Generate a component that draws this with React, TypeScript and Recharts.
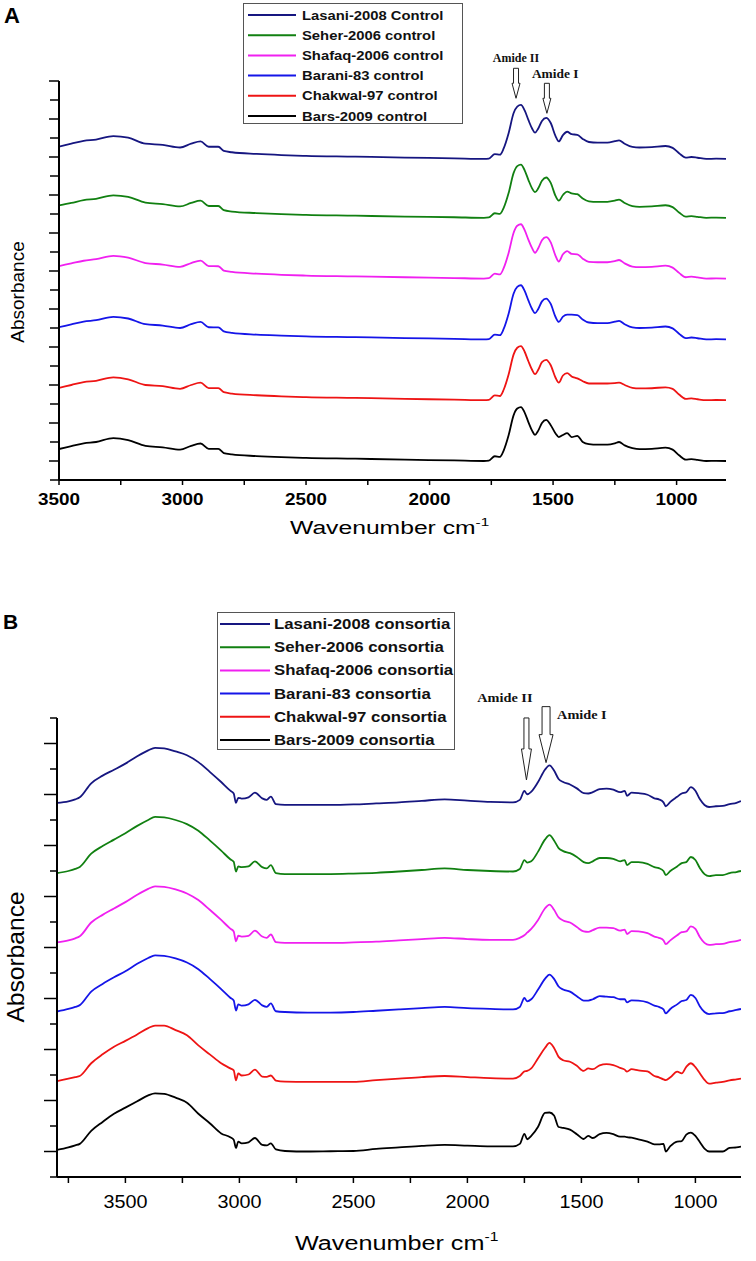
import React from 'react';
import { LineChart, Line, XAxis, YAxis, Legend, ReferenceDot } from 'recharts';

const SANS = "'Liberation Sans', Arial, Helvetica, sans-serif";
const SERIF = "'Liberation Serif', 'Times New Roman', Times, serif";

const COLORS = ['#161680', '#118011', '#f020f0', '#1515e8', '#ee1414', '#000000'];

// ---------- panel A : control spectra ----------
const WAVENUMBERS_A = [
  3500, 3450, 3400, 3350, 3280, 3220, 3150, 3080, 3010, 2965, 2927, 2894, 2855, 2833, 2800, 2700, 2600, 2500,
  2300, 2100, 1900, 1780, 1760, 1736, 1715, 1700, 1680, 1660, 1645, 1630, 1615, 1600, 1585, 1573, 1560, 1545,
  1528, 1510, 1490, 1477, 1460, 1443, 1425, 1402, 1380, 1355, 1320, 1280, 1250, 1233, 1210, 1179, 1150, 1100,
  1045, 1016, 990, 963, 940, 915, 880, 840, 800,
];
const LASANI_A = [
  0.65, 0.8, 0.95, 1.02, 1.2, 1.12, 0.8, 0.74, 0.6, 0.8, 0.92, 0.64, 0.64, 0.42, 0.35, 0.26, 0.2, 0.16, 0.12, 0.07,
  0.03, 0.0, 0.02, 0.25, 0.22, 0.55, 1.35, 2.4, 2.75, 2.84, 2.55, 2.05, 1.6, 1.38, 1.6, 2.0, 2.16, 1.9, 1.2, 0.92,
  1.25, 1.43, 1.3, 1.27, 1.05, 0.89, 0.86, 0.86, 0.93, 0.98, 0.8, 0.63, 0.6, 0.62, 0.68, 0.58, 0.3, 0.07, 0.1, 0.06,
  0.0, 0.01, 0.0,
];
const SEHER_A = [
  0.65, 0.78, 0.93, 1.0, 1.18, 1.1, 0.8, 0.72, 0.6, 0.78, 0.9, 0.62, 0.62, 0.4, 0.33, 0.25, 0.19, 0.15, 0.11, 0.06,
  0.03, 0.0, 0.02, 0.24, 0.21, 0.52, 1.3, 2.35, 2.72, 2.8, 2.5, 2.0, 1.55, 1.35, 1.55, 1.95, 2.12, 1.85, 1.15, 0.9,
  1.2, 1.38, 1.28, 1.24, 1.02, 0.87, 0.84, 0.84, 0.9, 0.96, 0.78, 0.62, 0.58, 0.6, 0.66, 0.56, 0.28, 0.06, 0.09, 0.05,
  0.0, 0.01, 0.0,
];
const SHAFAQ_A = [
  0.66, 0.8, 0.94, 1.02, 1.2, 1.1, 0.82, 0.74, 0.62, 0.82, 0.95, 0.66, 0.65, 0.42, 0.35, 0.26, 0.2, 0.16, 0.12, 0.07,
  0.03, 0.0, 0.02, 0.26, 0.22, 0.55, 1.35, 2.4, 2.78, 2.86, 2.55, 2.05, 1.6, 1.36, 1.6, 2.02, 2.18, 1.92, 1.2, 0.9,
  1.28, 1.45, 1.3, 1.28, 1.05, 0.88, 0.86, 0.86, 0.92, 0.98, 0.8, 0.63, 0.6, 0.62, 0.68, 0.58, 0.3, 0.07, 0.1, 0.06,
  0.0, 0.01, 0.0,
];
const BARANI_A = [
  0.64, 0.79, 0.94, 1.01, 1.19, 1.1, 0.8, 0.73, 0.6, 0.8, 0.92, 0.64, 0.63, 0.42, 0.34, 0.25, 0.2, 0.16, 0.12, 0.07,
  0.03, 0.0, 0.02, 0.25, 0.22, 0.55, 1.35, 2.4, 2.76, 2.85, 2.55, 2.05, 1.6, 1.38, 1.6, 2.0, 2.15, 1.88, 1.18, 0.92,
  1.2, 1.3, 1.3, 1.28, 1.05, 0.89, 0.86, 0.86, 0.93, 0.98, 0.8, 0.63, 0.6, 0.62, 0.68, 0.58, 0.3, 0.07, 0.1, 0.06,
  0.0, 0.01, 0.0,
];
const CHAKWAL_A = [
  0.65, 0.8, 0.95, 1.02, 1.2, 1.1, 0.8, 0.74, 0.6, 0.8, 0.92, 0.64, 0.64, 0.42, 0.35, 0.26, 0.2, 0.16, 0.12, 0.07,
  0.03, 0.0, 0.02, 0.25, 0.22, 0.55, 1.35, 2.4, 2.76, 2.85, 2.55, 2.05, 1.6, 1.37, 1.6, 2.0, 2.12, 1.85, 1.18, 0.92,
  1.3, 1.42, 1.25, 1.15, 1.0, 0.88, 0.88, 0.88, 0.9, 0.92, 0.8, 0.65, 0.62, 0.63, 0.68, 0.6, 0.3, 0.07, 0.1, 0.05,
  0.0, 0.01, 0.0,
];
const BARS_A = [
  0.63, 0.78, 0.93, 1.0, 1.2, 1.1, 0.8, 0.72, 0.6, 0.8, 0.92, 0.64, 0.64, 0.42, 0.35, 0.26, 0.2, 0.16, 0.12, 0.07,
  0.03, 0.0, 0.02, 0.25, 0.22, 0.55, 1.35, 2.4, 2.76, 2.84, 2.55, 2.05, 1.6, 1.38, 1.6, 2.0, 2.16, 1.9, 1.45, 1.26,
  1.37, 1.47, 1.26, 1.32, 1.0, 0.89, 0.86, 0.86, 0.93, 1.0, 0.82, 0.68, 0.62, 0.64, 0.7, 0.6, 0.3, 0.07, 0.1, 0.06,
  0.0, 0.01, 0.0,
];
// vertical stacking offset of each trace
const OFFSETS_A = [16.9, 13.8, 10.6, 7.4, 4.2, 1.0];
const NAMES_A = [
  'Lasani-2008 Control',
  'Seher-2006 control',
  'Shafaq-2006 control',
  'Barani-83 control',
  'Chakwal-97 control',
  'Bars-2009 control',
];
const X_TICKS_A = [1000, 1250, 1500, 1750, 2000, 2250, 2500, 2750, 3000, 3250, 3500];
const Y_TICKS_A = [0, 1, 2, 3, 4, 5, 6, 7, 8, 9, 10, 11, 12, 13, 14, 15, 16, 17, 18, 19, 20, 21];
const AMIDES_A = [
  { label: 'Amide II', wn: 1650, tip: 20.09 },
  { label: 'Amide I', wn: 1525, tip: 19.3 },
];

// ---------- panel B : consortia spectra ----------
const WAVENUMBERS_B = [
  3800, 3750, 3720, 3700, 3650, 3600, 3550, 3500, 3450, 3400, 3370, 3330, 3280, 3230, 3180, 3130, 3080, 3040,
  3025, 3015, 3005, 2990, 2960, 2932, 2900, 2880, 2862, 2840, 2800, 2700, 2600, 2500, 2400, 2300, 2200, 2100,
  2000, 1900, 1800, 1770, 1750, 1738, 1720, 1690, 1660, 1640, 1620, 1600, 1580, 1550, 1520, 1490, 1470, 1450,
  1420, 1390, 1360, 1330, 1310, 1300, 1280, 1250, 1210, 1180, 1160, 1140, 1130, 1110, 1080, 1060, 1040, 1020,
  1000, 980, 960, 940, 910, 880, 850, 820, 800,
];
const LASANI_B = [
  0.08, 0.14, 0.22, 0.3, 0.85, 1.15, 1.38, 1.62, 1.9, 2.14,
  2.24, 2.22, 2.1, 1.95, 1.68, 1.3, 0.9, 0.56, 0.45, 0.08,
  0.28, 0.25, 0.3, 0.48, 0.26, 0.2, 0.33, 0.03, 0, 0,
  0, 0.02, 0.06, 0.1, 0.16, 0.22, 0.17, 0.12, 0.1, 0.2,
  0.55, 0.42, 0.52, 0.9, 1.38, 1.55, 1.35, 1.02, 0.9, 0.8,
  0.65, 0.46, 0.45, 0.5, 0.62, 0.64, 0.6, 0.5, 0.55, 0.36,
  0.48, 0.46, 0.4, 0.26, 0.22, 0.1, -0.05, 0.12, 0.32, 0.45,
  0.5, 0.7, 0.56, 0.22, 0, -0.08, -0.05, -0.04, 0.03, 0.08, 0.15,
];
const SEHER_B = [
  0.04, 0.12, 0.2, 0.28, 0.8, 1.1, 1.35, 1.6, 1.88, 2.12,
  2.24, 2.22, 2.12, 1.96, 1.7, 1.32, 0.92, 0.58, 0.48, 0.1,
  0.3, 0.27, 0.3, 0.5, 0.27, 0.22, 0.35, 0.04, 0, 0,
  0, 0.02, 0.05, 0.1, 0.16, 0.22, 0.16, 0.12, 0.1, 0.2,
  0.55, 0.45, 0.5, 0.88, 1.35, 1.53, 1.32, 1.02, 0.9, 0.82,
  0.67, 0.47, 0.43, 0.5, 0.63, 0.63, 0.6, 0.5, 0.55, 0.35,
  0.47, 0.47, 0.4, 0.27, 0.23, 0.12, -0.04, 0.12, 0.3, 0.43,
  0.47, 0.67, 0.55, 0.23, 0, -0.08, -0.04, -0.04, 0.04, 0.08, 0.12,
];
const SHAFAQ_B = [
  0.02, 0.1, 0.18, 0.26, 0.8, 1.1, 1.35, 1.6, 1.88, 2.12,
  2.22, 2.2, 2.1, 1.94, 1.68, 1.3, 0.9, 0.56, 0.45, 0.06,
  0.28, 0.25, 0.28, 0.48, 0.25, 0.2, 0.33, 0.03, 0, 0,
  0, 0.02, 0.05, 0.1, 0.15, 0.2, 0.15, 0.12, 0.12, 0.2,
  0.3, 0.4, 0.55, 0.9, 1.35, 1.5, 1.3, 1.0, 0.88, 0.8,
  0.62, 0.45, 0.43, 0.5, 0.6, 0.6, 0.58, 0.48, 0.52, 0.35,
  0.46, 0.45, 0.38, 0.25, 0.2, 0.1, -0.05, 0.1, 0.3, 0.42,
  0.45, 0.65, 0.55, 0.22, 0, -0.08, -0.05, -0.04, 0.03, 0.07, 0.12,
];
const BARANI_B = [
  0.02, 0.12, 0.2, 0.27, 0.8, 1.1, 1.36, 1.6, 1.88, 2.12,
  2.22, 2.2, 2.1, 1.94, 1.68, 1.3, 0.9, 0.56, 0.45, 0.06,
  0.3, 0.25, 0.3, 0.48, 0.26, 0.2, 0.34, 0.03, 0, -0.02,
  -0.02, 0, 0.05, 0.1, 0.15, 0.2, 0.15, 0.12, 0.1, 0.2,
  0.55, 0.42, 0.5, 0.88, 1.3, 1.47, 1.3, 1.0, 0.88, 0.8,
  0.62, 0.45, 0.45, 0.5, 0.62, 0.6, 0.58, 0.5, 0.5, 0.38,
  0.46, 0.45, 0.38, 0.25, 0.2, 0.1, -0.05, 0.12, 0.3, 0.43,
  0.47, 0.67, 0.55, 0.22, 0, -0.08, -0.05, -0.04, 0.03, 0.08, 0.12,
];
const CHAKWAL_B = [
  0.0, 0.1, 0.16, 0.2, 0.7, 1.05, 1.35, 1.58, 1.82, 2.08,
  2.18, 2.18, 2.0, 1.8, 1.4, 1.05, 0.7, 0.5, 0.42, 0.03,
  0.3, 0.22, 0.26, 0.45, 0.18, 0.17, 0.22, 0.02, -0.02, -0.03,
  -0.03, -0.03, 0.04, 0.1, 0.16, 0.2, 0.16, 0.12, 0.1, 0.2,
  0.38, 0.4, 0.5, 0.9, 1.3, 1.5, 1.3, 0.95, 0.82, 0.76,
  0.6, 0.4, 0.5, 0.47, 0.62, 0.67, 0.63, 0.52, 0.45, 0.37,
  0.47, 0.42, 0.38, 0.2, 0.15, 0.07, 0.04, 0.15, 0.37, 0.3,
  0.56, 0.7, 0.55, 0.3, 0.05, -0.1, -0.06, -0.03, 0.03, 0.07, 0.1,
];
const BARS_B = [
  0, 0.1, 0.18, 0.24, 0.75, 1.1, 1.42, 1.66, 1.9, 2.14,
  2.22, 2.2, 2.05, 1.85, 1.42, 1.05, 0.65, 0.5, 0.4, 0.08,
  0.33, 0.26, 0.3, 0.47, 0.2, 0.18, 0.26, 0.02, -0.04, -0.06,
  -0.05, -0.04, 0.04, 0.1, 0.16, 0.2, 0.17, 0.14, 0.14, 0.24,
  0.63, 0.42, 0.55, 0.91, 1.45, 1.47, 1.35, 0.9, 0.87, 0.8,
  0.62, 0.43, 0.55, 0.47, 0.62, 0.67, 0.62, 0.52, 0.52, 0.5,
  0.48, 0.42, 0.33, 0.22, 0.22, 0.24, -0.06, 0.15, 0.33, 0.35,
  0.6, 0.68, 0.55, 0.3, 0.05, -0.06, -0.06, -0.06, 0.08, 0.1, 0.13,
];
const OFFSETS_B = [14.59, 11.88, 9.18, 6.47, 3.76, 1.06];
const NAMES_B = [
  'Lasani-2008 consortia',
  'Seher-2006 consortia',
  'Shafaq-2006 consortia',
  'Barani-83 consortia',
  'Chakwal-97 consortia',
  'Bars-2009 consortia',
];
const X_TICKS_B = [1000, 1250, 1500, 1750, 2000, 2250, 2500, 2750, 3000, 3250, 3500, 3750];
const Y_TICKS_B = [0, 1, 2, 3, 4, 5, 6, 7, 8, 9, 10, 11, 12, 13, 14, 15, 16, 17, 18];
const AMIDES_B = [
  { label: 'Amide II', wn: 1741, tip: 15.57 },
  { label: 'Amide I', wn: 1655, tip: 16.25 },
];

const KEYS = ['lasani', 'seher', 'shafaq', 'barani', 'chakwal', 'bars'];

function buildRows(wavenumbers: number[], spectra: number[][], offsets: number[]) {
  return wavenumbers.map((wn, i) => {
    const row: Record<string, number> = { wn };
    KEYS.forEach((k, s) => {
      row[k] = spectra[s][i] + offsets[s];
    });
    return row;
  });
}

const ROWS_A = buildRows(WAVENUMBERS_A, [LASANI_A, SEHER_A, SHAFAQ_A, BARANI_A, CHAKWAL_A, BARS_A], OFFSETS_A);
const ROWS_B = buildRows(WAVENUMBERS_B, [LASANI_B, SEHER_B, SHAFAQ_B, BARANI_B, CHAKWAL_B, BARS_B], OFFSETS_B);

// horizontally stretched text (the source figure is widened)
function SText({ x, y, sx = 1, anchor = 'middle', children, ...rest }: any) {
  return (
    <g transform={`translate(${x},${y}) scale(${sx},1)`}>
      <text x={0} y={0} textAnchor={anchor} {...rest}>
        {children}
      </text>
    </g>
  );
}

function LegendBox({ names, st }: { names: string[]; st: any }) {
  return (
    <svg width={st.w} height={st.h} style={{ display: 'block' }}>
      <rect x={0.5} y={0.5} width={st.w - 1} height={st.h - 1} fill="#fff" stroke="#555" strokeWidth={1} />
      {names.map((n, i) => {
        const y = st.firstRow + i * st.rowGap;
        return (
          <g key={n}>
            <line x1={st.lineX1} x2={st.lineX2} y1={y} y2={y} stroke={COLORS[i]} strokeWidth={2} />
            <SText
              x={st.textX}
              y={y}
              sx={st.sx}
              anchor="start"
              dominantBaseline="central"
              fontFamily={SANS}
              fontWeight="bold"
              fontSize={st.fontSize}
              fill="#111"
            >
              {n}
            </SText>
          </g>
        );
      })}
    </svg>
  );
}

function makeArrow(label: string, st: any) {
  return (props: any) => {
    const { cx, cy } = props;
    const top = cy - st.head - st.shaft;
    const neck = cy - st.head;
    const d = `M${cx - st.shaftW / 2},${top} L${cx + st.shaftW / 2},${top} L${cx + st.shaftW / 2},${neck} L${cx + st.headW / 2},${neck} L${cx},${cy} L${cx - st.headW / 2},${neck} L${cx - st.shaftW / 2},${neck} Z`;
    return (
      <g>
        <path d={d} fill="#fff" stroke="#222" strokeWidth={1} />
        <SText
          x={cx + st.labelDx}
          y={top + st.labelDy}
          sx={st.labelSx}
          anchor={st.labelAnchor}
          fontFamily={SERIF}
          fontWeight="bold"
          fontSize={st.labelSize}
          fill="#111"
        >
          {label}
        </SText>
      </g>
    );
  };
}

function Panel({ cfg }: { cfg: any }) {
  const xTick = (p: any) => {
    const { x, y, payload } = p;
    const v = payload.value as number;
    return (
      <g>
        <line x1={x} x2={x} y1={y} y2={y + cfg.xTickLen} stroke="#000" strokeWidth={1.5} />
        {v % 500 === 0 && (
          <SText
            x={x}
            y={y + cfg.xLabelDy}
            sx={cfg.xLabelSx}
            fontFamily={SANS}
            fontWeight={cfg.xLabelWeight}
            fontSize={cfg.xLabelSize}
            fill="#000"
          >
            {v}
          </SText>
        )}
      </g>
    );
  };
  const yTick = (p: any) => {
    const { x, y, payload } = p;
    const len = payload.value % 2 === 1 ? cfg.yTickLong : cfg.yTickShort;
    return <line x1={x} x2={x - len} y1={y} y2={y} stroke="#000" strokeWidth={1.5} />;
  };
  return (
    <div style={{ position: 'absolute', left: 0, top: cfg.top, width: 756, height: cfg.height }}>
      <LineChart width={756} height={cfg.height} data={cfg.rows} margin={cfg.margin}>
        <XAxis
          type="number"
          dataKey="wn"
          domain={cfg.xDomain}
          reversed
          allowDataOverflow
          ticks={cfg.xTicks}
          interval={0}
          height={1}
          tickSize={0}
          tickMargin={0}
          tickLine={false}
          tick={xTick}
          axisLine={{ stroke: '#000', strokeWidth: 2 }}
        />
        <YAxis
          type="number"
          domain={[0, cfg.yMax]}
          allowDataOverflow
          ticks={cfg.yTicks}
          interval={0}
          width={1}
          tickSize={0}
          tickMargin={0}
          tickLine={false}
          tick={yTick}
          axisLine={{ stroke: '#000', strokeWidth: 2 }}
        />
        {KEYS.map((k, i) => (
          <Line
            key={k}
            type="monotone"
            dataKey={k}
            name={cfg.names[i]}
            stroke={COLORS[i]}
            strokeWidth={1.8}
            dot={false}
            isAnimationActive={false}
          />
        ))}
        {cfg.amides.map((a: any, i: number) => (
          <ReferenceDot
            key={a.label}
            x={a.wn}
            y={a.tip}
            r={1}
            ifOverflow="visible"
            shape={makeArrow(a.label, cfg.arrowStyles[i])}
          />
        ))}
        <Legend
          layout="vertical"
          align="center"
          verticalAlign="middle"
          wrapperStyle={{ left: cfg.legend.left, top: cfg.legend.top, width: cfg.legend.w, height: cfg.legend.h }}
          content={() => <LegendBox names={cfg.names} st={cfg.legend} />}
        />
      </LineChart>
      <svg
        width={756}
        height={cfg.height}
        style={{ position: 'absolute', left: 0, top: 0, pointerEvents: 'none' }}
      >
        <text x={cfg.letter.x} y={cfg.letter.y} fontFamily={SANS} fontWeight="bold" fontSize={cfg.letter.size} fill="#000">
          {cfg.letter.text}
        </text>
        <g transform={`translate(${cfg.yTitle.x},${cfg.yTitle.y}) rotate(-90) scale(${cfg.yTitle.sx},1)`}>
          <text x={0} y={0} textAnchor="middle" fontFamily={SANS} fontSize={cfg.yTitle.size} fill="#000">
            Absorbance
          </text>
        </g>
        <SText
          x={cfg.xTitle.x}
          y={cfg.xTitle.y}
          sx={cfg.xTitle.sx}
          anchor="start"
          fontFamily={SANS}
          fontSize={cfg.xTitle.size}
          fill="#000"
        >
          Wavenumber cm
          <tspan fontSize={cfg.xTitle.size * 0.62} dy={cfg.xTitle.supDy}>
            -1
          </tspan>
        </SText>
      </svg>
    </div>
  );
}

const PANEL_A = {
  top: 0,
  height: 600,
  rows: ROWS_A,
  names: NAMES_A,
  amides: AMIDES_A,
  margin: { top: 81, right: 30, bottom: 119, left: 58 },
  xDomain: [800, 3500],
  xTicks: X_TICKS_A,
  yMax: 21,
  yTicks: Y_TICKS_A,
  xTickLen: 5,
  xLabelDy: 25,
  xLabelSx: 1.18,
  xLabelSize: 16,
  xLabelWeight: 'bold',
  yTickLong: 10,
  yTickShort: 9,
  legend: { left: 243, top: 3, w: 220, h: 121, firstRow: 12, rowGap: 20.2, lineX1: 5, lineX2: 53, textX: 59, fontSize: 13, sx: 1.14 },
  arrowStyles: [
    { shaft: 15, head: 15, shaftW: 5, headW: 8, labelDx: 0, labelDy: -6, labelAnchor: 'middle', labelSize: 12, labelSx: 1.0 },
    { shaft: 15, head: 15, shaftW: 5, headW: 8, labelDx: -15, labelDy: -5, labelAnchor: 'start', labelSize: 12, labelSx: 1.12 },
  ],
  letter: { text: 'A', x: 4, y: 23, size: 22 },
  yTitle: { x: 24, y: 292, size: 19, sx: 1.0 },
  xTitle: { x: 290, y: 534, size: 19, sx: 1.3, supDy: -8 },
};

const PANEL_B = {
  top: 600,
  height: 661,
  rows: ROWS_B,
  names: NAMES_B,
  amides: AMIDES_B,
  margin: { top: 118, right: 15, bottom: 83, left: 56 },
  xDomain: [800, 3800],
  xTicks: X_TICKS_B,
  yMax: 18,
  yTicks: Y_TICKS_B,
  xTickLen: 6,
  xLabelDy: 31,
  xLabelSx: 1.07,
  xLabelSize: 18.5,
  xLabelWeight: 'normal',
  yTickLong: 13,
  yTickShort: 7,
  legend: { left: 217, top: 12, w: 238, h: 138, firstRow: 12, rowGap: 23.2, lineX1: 3, lineX2: 53, textX: 57, fontSize: 14, sx: 1.2 },
  arrowStyles: [
    { shaft: 31, head: 31, shaftW: 5, headW: 10, labelDx: 6, labelDy: -16, labelAnchor: 'end', labelSize: 13, labelSx: 1.1 },
    { shaft: 28, head: 28, shaftW: 8, headW: 14, labelDx: 11, labelDy: 12, labelAnchor: 'start', labelSize: 13, labelSx: 1.1 },
  ],
  letter: { text: 'B', x: 3, y: 29, size: 21 },
  yTitle: { x: 24, y: 357, size: 23, sx: 1.07 },
  xTitle: { x: 295, y: 650, size: 21, sx: 1.2, supDy: -9 },
};

export default function App() {
  return (
    <div style={{ position: 'absolute', left: 0, top: 0, width: 756, height: 1261, background: '#fff' }}>
      <Panel cfg={PANEL_A} />
      <Panel cfg={PANEL_B} />
    </div>
  );
}
